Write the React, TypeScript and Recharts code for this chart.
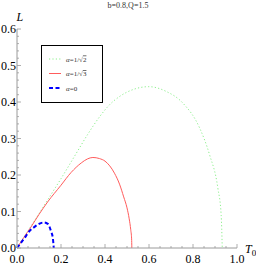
import { Legend, Line, LineChart, XAxis, YAxis } from "recharts";

// a = 1/sqrt(2)
const T_HALF = [0, 0.05, 0.1, 0.15, 0.2, 0.27, 0.32, 0.376, 0.42, 0.466, 0.527, 0.599, 0.678, 0.754, 0.83, 0.875, 0.913, 0.928, 0.933];
const L_HALF = [0, 0.047, 0.094, 0.142, 0.19, 0.26, 0.31, 0.36, 0.392, 0.415, 0.434, 0.442, 0.429, 0.397, 0.329, 0.256, 0.164, 0.091, 0];

// a = 1/sqrt(3)
const T_THIRD = [0, 0.03, 0.063, 0.1, 0.139, 0.2, 0.246, 0.292, 0.32, 0.345, 0.375, 0.4, 0.443, 0.466, 0.485, 0.5, 0.51, 0.517, 0.521, 0.522];
const L_THIRD = [0, 0.028, 0.057, 0.092, 0.126, 0.172, 0.207, 0.233, 0.244, 0.248, 0.245, 0.238, 0.205, 0.175, 0.14, 0.11, 0.08, 0.05, 0.025, 0];

// a = 0
const T_ZERO = [0, 0.034, 0.055, 0.08, 0.1, 0.122, 0.14, 0.155, 0.163, 0.167];
const L_ZERO = [0, 0.027, 0.045, 0.058, 0.066, 0.07, 0.066, 0.045, 0.027, 0];

const X_TICKS = [0, 0.05, 0.1, 0.15, 0.2, 0.25, 0.3, 0.35, 0.4, 0.45, 0.5, 0.55, 0.6, 0.65, 0.7, 0.75, 0.8, 0.85, 0.9, 0.95, 1.0];
const Y_TICKS = [
  0, 0.02, 0.04, 0.06, 0.08, 0.1, 0.12, 0.14, 0.16, 0.18, 0.2, 0.22, 0.24, 0.26, 0.28, 0.3,
  0.32, 0.34, 0.36, 0.38, 0.4, 0.42, 0.44, 0.46, 0.48, 0.5, 0.52, 0.54, 0.56, 0.58, 0.6,
];

const TITLE = "b=0.8,Q=1.5";

const toPoints = (ts: number[], ls: number[]) => ts.map((t, i) => ({ T: t, L: ls[i] }));

const SERIES = [
  { key: "half", root: "2", data: toPoints(T_HALF, L_HALF), color: "#8cf08c", width: 1, dash: "1.2 2.2" },
  { key: "third", root: "3", data: toPoints(T_THIRD, L_THIRD), color: "#ff5c5c", width: 1, dash: undefined },
  { key: "zero", root: null, data: toPoints(T_ZERO, L_ZERO), color: "#0000ff", width: 2, dash: "4 2.5" },
];

const SERIF = "'Liberation Serif', 'Times New Roman', serif";
const AXIS = "#9a9a9a";

const isMajor = (v: number, per: number) => Math.abs(v * per - Math.round(v * per)) < 1e-6;

function XTick({ x, y, payload }: any) {
  const v = payload.value as number;
  const major = isMajor(v, 5);
  return (
    <g>
      <line x1={x} x2={x} y1={y} y2={y - (major ? 4 : 2)} stroke={AXIS} strokeWidth={0.8} />
      {major && (
        <text x={x} y={y + 15} textAnchor="middle" fontSize={12} fontFamily={SERIF} fill="#000">
          {v.toFixed(1)}
        </text>
      )}
    </g>
  );
}

function YTick({ x, y, payload }: any) {
  const v = payload.value as number;
  const major = isMajor(v, 10);
  return (
    <g>
      <line x1={x} x2={x + (major ? 4 : 2)} y1={y} y2={y} stroke={AXIS} strokeWidth={0.8} />
      {major && (
        <text x={x - 1} y={y + 4} textAnchor="end" fontSize={12} fontFamily={SERIF} fill="#000">
          {v.toFixed(1)}
        </text>
      )}
    </g>
  );
}

function LegendBox() {
  return (
    <div style={{ width: 60, height: 56, border: "1.5px solid #000", background: "#fff" }}>
      <svg width={60} height={56}>
        {SERIES.map((s, i) => {
          const y = 13 + i * 14.5;
          return (
            <g key={s.key}>
              <line x1={7} x2={19} y1={y} y2={y} stroke={s.color} strokeWidth={s.width} strokeDasharray={s.dash} />
              <text x={24} y={y + 2.5} fontSize={7} fontFamily={SERIF} fill="#333">
                <tspan fontStyle="italic">α</tspan>
                {s.root ? "=1/√" : "=0"}
                {s.root && <tspan textDecoration="overline">{s.root}</tspan>}
              </text>
            </g>
          );
        })}
      </svg>
    </div>
  );
}

export default function App() {
  return (
    <div style={{ position: "absolute", left: 0, top: 0, width: 256, height: 265, background: "#fff" }}>
      <div
        style={{
          position: "absolute",
          top: 1,
          left: 0,
          width: 256,
          textAlign: "center",
          fontSize: 8,
          lineHeight: "9px",
          fontFamily: SERIF,
          color: "#333",
        }}
      >
        {TITLE}
      </div>
      <LineChart width={256} height={265} margin={{ top: 29, right: 19, bottom: 0, left: 0 }}>
        <XAxis
          type="number"
          dataKey="T"
          domain={[0, 1]}
          ticks={X_TICKS}
          interval={0}
          height={17}
          stroke={AXIS}
          tickLine={false}
          tickSize={0}
          tickMargin={0}
          tick={<XTick />}
          label={{
            content: ({ viewBox }: any) => (
              <text x={viewBox.x + viewBox.width + 8} y={viewBox.y + 5} fontFamily={SERIF} fill="#000">
                <tspan fontSize={12} fontStyle="italic">T</tspan>
                <tspan fontSize={9} dy={3}>0</tspan>
              </text>
            ),
          }}
        />
        <YAxis
          type="number"
          domain={[0, 0.6]}
          ticks={Y_TICKS}
          interval={0}
          width={17}
          stroke={AXIS}
          tickLine={false}
          tickSize={0}
          tickMargin={0}
          tick={<YTick />}
          label={{
            content: ({ viewBox }: any) => (
              <text
                x={viewBox.x + viewBox.width - 0.5}
                y={viewBox.y - 8}
                fontSize={12}
                fontStyle="italic"
                fontFamily={SERIF}
                fill="#000"
              >
                L
              </text>
            ),
          }}
        />
        <Legend
          layout="vertical"
          verticalAlign="middle"
          align="center"
          content={() => <LegendBox />}
          wrapperStyle={{ left: 41, top: 45, width: 63, height: 59 }}
        />
        {SERIES.map((s) => (
          <Line
            key={s.key}
            data={s.data}
            dataKey="L"
            type="monotone"
            stroke={s.color}
            strokeWidth={s.width}
            strokeDasharray={s.dash}
            dot={false}
            activeDot={false}
            isAnimationActive={false}
          />
        ))}
      </LineChart>
    </div>
  );
}
